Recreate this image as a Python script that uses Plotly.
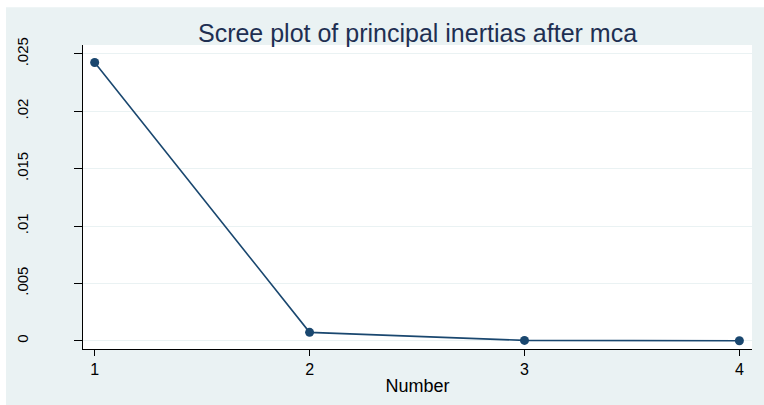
import plotly.graph_objects as go

# Data
numbers = [1, 2, 3, 4]
inertias = [0.02425, 0.00073, 0.00003, 0.0]
y_tick_vals = [0, 0.005, 0.01, 0.015, 0.02, 0.025]
y_tick_text = ["0", ".005", ".01", ".015", ".02", ".025"]
x_tick_vals = [1, 2, 3, 4]
x_tick_text = ["1", "2", "3", "4"]
title_text = "Scree plot of principal inertias after mca"
x_title = "Number"

BG = "#EAF2F3"
NAVY = "#1A476F"
FONT = "Liberation Sans, Arial, sans-serif"

fig = go.Figure()
fig.add_trace(go.Scatter(
    x=numbers, y=inertias, mode="lines+markers",
    line=dict(color=NAVY, width=1.6),
    marker=dict(color=NAVY, size=9),
    showlegend=False, hoverinfo="skip",
))

fig.update_layout(
    width=764, height=405,
    margin=dict(l=83, r=12, t=45, b=54),
    paper_bgcolor=BG,
    plot_bgcolor="white",
    font=dict(family=FONT, color="black"),
    title=dict(text=title_text, x=0.5, xref="paper", xanchor="center",
               y=1 - 33 / 405, yref="container", yanchor="middle",
               font=dict(size=25, color="#1E2F52", family=FONT)),
    shapes=[
        dict(type="rect", xref="paper", yref="paper", x0=-0.5, x1=(6 - 83) / 669,
             y0=-1, y1=2, fillcolor="white", line=dict(width=0), layer="below"),
        dict(type="rect", xref="paper", yref="paper", x0=-1, x1=2,
             y0=(351 - 7) / 306, y1=2, fillcolor="white", line=dict(width=0), layer="below"),
    ],
)

fig.update_xaxes(
    range=[0.9456, 4.0587],
    tickmode="array", tickvals=x_tick_vals, ticktext=x_tick_text,
    ticks="outside", ticklen=6, tickwidth=1, tickcolor="black",
    showline=True, linecolor="black", linewidth=1,
    showgrid=False, zeroline=False,
    tickfont=dict(size=16, color="black"),
    title=dict(text=x_title, font=dict(size=18, color="black"), standoff=2),
)
fig.update_yaxes(
    range=[-0.00072, 0.02578],
    tickmode="array", tickvals=y_tick_vals, ticktext=y_tick_text,
    ticks="outside", ticklen=8, tickwidth=1, tickcolor="black",
    showline=True, linecolor="black", linewidth=1,
    showgrid=True, gridcolor=BG, gridwidth=1,
    zeroline=False,
    tickangle=-90, ticklabelstandoff=40,
    tickfont=dict(size=15, color="black"),
)

fig.write_html("out.html", config={"displayModeBar": False},
               post_script="document.body.style.margin='0px';")
